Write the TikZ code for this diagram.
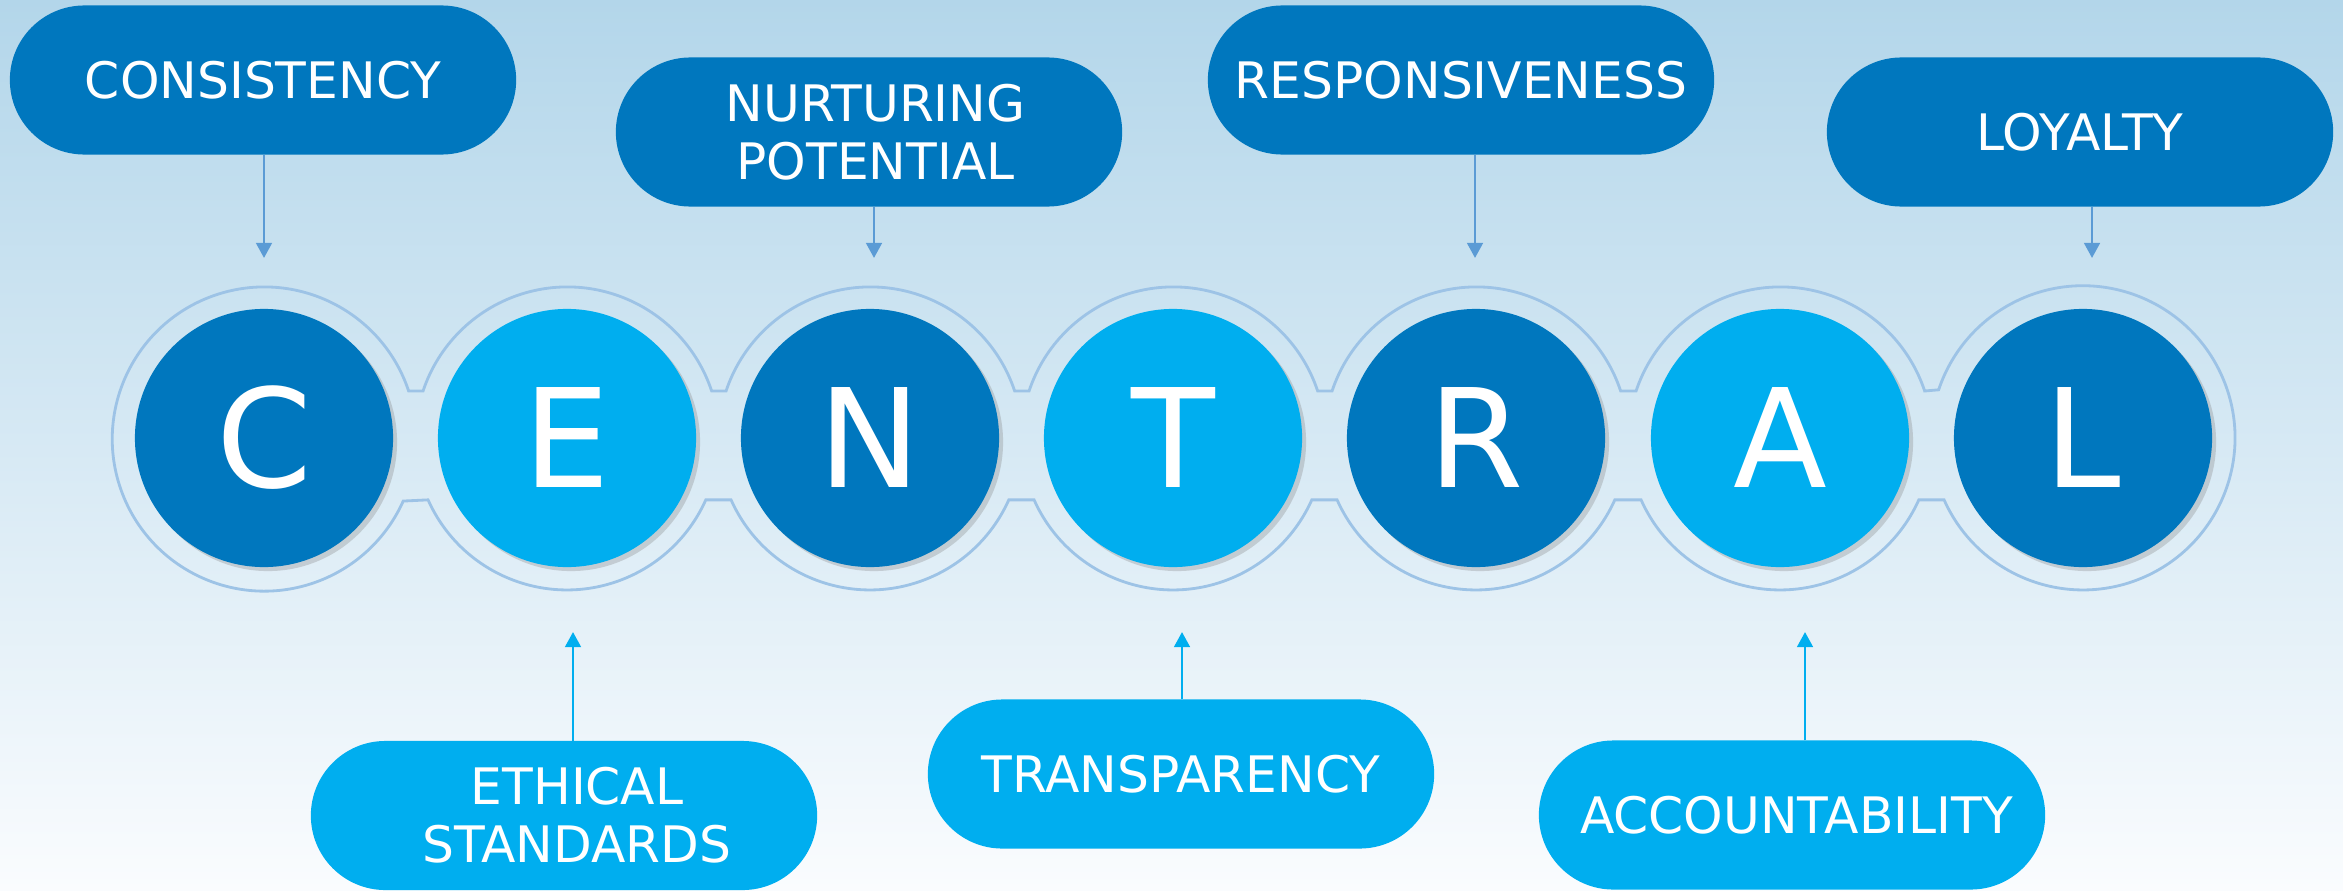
\documentclass[tikz,border=0pt]{standalone}
\usepackage{fontspec}
\setmainfont{DejaVu Sans}
\usetikzlibrary{arrows.meta,shadows}
\definecolor{darkblue}{RGB}{0,119,190}
\definecolor{lightblue}{RGB}{0,174,239}
\definecolor{ringblue}{RGB}{157,195,230}
\definecolor{arrowblue}{RGB}{91,155,213}
\definecolor{bgtop}{RGB}{179,214,234}
\definecolor{bgbottom}{RGB}{250,252,254}
\begin{document}
\begin{tikzpicture}[x=0.01cm,y=0.01cm,
  ringnode/.style={circle, minimum size=3.04cm, inner sep=0pt, outer sep=0pt},
  letter/.style={circle, minimum size=2.58cm, inner sep=0pt, text=white,
    font=\fontsize{39pt}{40pt}\selectfont,
    drop shadow={shadow xshift=0.04cm, shadow yshift=-0.04cm, opacity=0.3}},
  darkcirc/.style={letter, fill=darkblue},
  lightcirc/.style={letter, fill=lightblue},
  pill/.style={rectangle, rounded corners=0.745cm, minimum width=5.06cm,
    minimum height=1.49cm, inner sep=0pt, outer sep=0pt, text=white, align=center,
    font=\fontsize{14.3pt}{16.4pt}\selectfont},
  toppill/.style={pill, fill=darkblue},
  botpill/.style={pill, fill=lightblue},
  ring/.style={draw=ringblue, line width=0.8pt},
  downarrow/.style={draw=arrowblue, line width=0.8pt, -{Triangle[width=0.155cm,length=0.15cm]}},
  uparrow/.style={draw=lightblue, line width=0.8pt, -{Triangle[width=0.155cm,length=0.15cm]}}
]
\useasboundingbox (0,0) rectangle (2343,890);
\shade[top color=bgtop, bottom color=bgbottom] (0,0) rectangle (2343,890);

% ring placeholders
\node[ringnode] (rC) at (264,452) {};
\node[ringnode] (rE) at (567,452) {};
\node[ringnode] (rN) at (870,452) {};
\node[ringnode] (rT) at (1173,452) {};
\node[ringnode] (rR) at (1476,452) {};
\node[ringnode] (rA) at (1780,452) {};
\node[ringnode] (rL) at (2083,452) {};

% ring outline
\draw[ring] (rC.18.41) arc[start angle=18.41, end angle=335.93, radius=1.52cm]
  -- (rE.204.07) arc[start angle=204.07, end angle=335.93, radius=1.52cm]
  -- (rN.204.07) arc[start angle=204.07, end angle=335.93, radius=1.52cm]
  -- (rT.204.07) arc[start angle=204.07, end angle=335.93, radius=1.52cm]
  -- (rR.204.07) arc[start angle=204.07, end angle=335.93, radius=1.52cm]
  -- (rA.204.07) arc[start angle=204.07, end angle=335.93, radius=1.52cm]
  -- (rL.204.07) arc[start angle=204.07, end angle=521.59, radius=1.52cm]
  -- (rA.18.41) arc[start angle=18.41, end angle=161.59, radius=1.52cm]
  -- (rR.18.41) arc[start angle=18.41, end angle=161.59, radius=1.52cm]
  -- (rT.18.41) arc[start angle=18.41, end angle=161.59, radius=1.52cm]
  -- (rN.18.41) arc[start angle=18.41, end angle=161.59, radius=1.52cm]
  -- (rE.18.41) arc[start angle=18.41, end angle=161.59, radius=1.52cm]
  -- cycle;

% letter circles
\node[darkcirc]  (C) at (rC) {C};
\node[lightcirc] (E) at (rE) {E};
\node[darkcirc]  (N) at (rN) {N};
\node[lightcirc] (T) at (rT) {T};
\node[darkcirc]  (R) at (rR) {R};
\node[lightcirc] (A) at (rA) {A};
\node[darkcirc]  (L) at (rL) {L};

% boxes
\node[toppill] (cons) at (263,810) {CONSISTENCY};
\node[toppill] (nurt) at (869,758) {\hspace*{0.13cm}NURTURING\\\hspace*{0.13cm}POTENTIAL};
\node[toppill] (resp) at (1461,810) {RESPONSIVENESS};
\node[toppill] (loya) at (2080,758) {LOYALTY};
\node[botpill] (ethi) at (564,74.5) {\hspace*{0.26cm}ETHICAL\\\hspace*{0.26cm}STANDARDS};
\node[botpill] (tran) at (1181,116) {TRANSPARENCY};
\node[botpill] (acco) at (1792,75) {\hspace*{0.09cm}ACCOUNTABILITY};

% arrow tips
\coordinate (tC) at (264,632);
\coordinate (tN) at (874,632);
\coordinate (tR) at (1475,632);
\coordinate (tL) at (2092,632);
\coordinate (tE) at (573,258);
\coordinate (tT) at (1182,258);
\coordinate (tA) at (1805,258);

\draw[downarrow] (cons.south -| tC) -- (tC);
\draw[downarrow] (nurt.south -| tN) -- (tN);
\draw[downarrow] (resp.south -| tR) -- (tR);
\draw[downarrow] (loya.south -| tL) -- (tL);
\draw[uparrow] (ethi.north -| tE) -- (tE);
\draw[uparrow] (tran.north -| tT) -- (tT);
\draw[uparrow] (acco.north -| tA) -- (tA);
\end{tikzpicture}
\end{document}
